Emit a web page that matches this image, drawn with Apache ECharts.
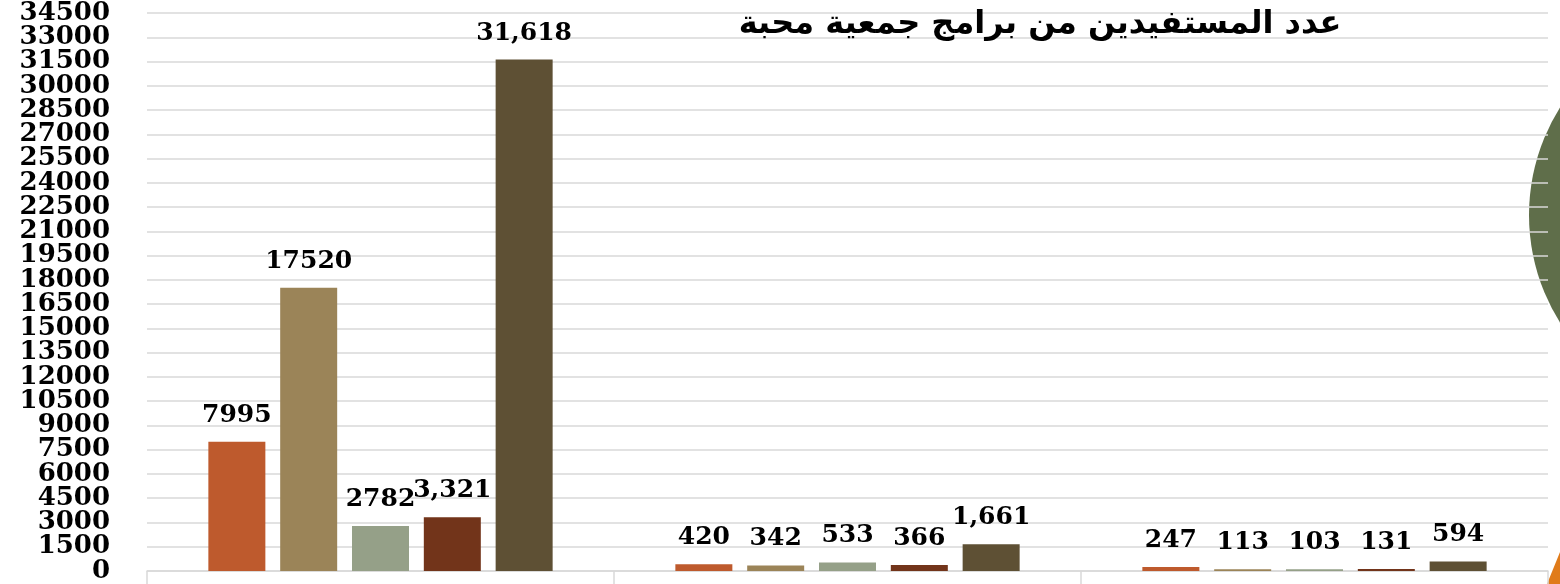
<!DOCTYPE html>
<html>
<head>
<meta charset="utf-8">
<script src="https://cdn.jsdelivr.net/npm/echarts@6/dist/echarts.min.js"></script>
<style>
	html, body { margin: 0; padding: 0; background: #fff; }
	#main { width: 1560px; height: 584px; }
</style>
</head>
<body>
<div id="main"></div>
<script>
// 数据
var categories = ['', '', ''];
var seriesNames = ['s1', 's2', 's3', 's4', 's5'];
var seriesColors = ['#be5a2d', '#9b8458', '#95a088', '#72341a', '#5e5034'];
var values1 = [7995, 420, 247];
var values2 = [17520, 342, 113];
var values3 = [2782, 533, 103];
var values4 = [3321, 366, 131];
var values5 = [31618, 1661, 594];
// 标签文字(原图格式不统一)
var labels1 = ['7995', '420', '247'];
var labels2 = ['17520', '342', '113'];
var labels3 = ['2782', '533', '103'];
var labels4 = ['3,321', '366', '131'];
var labels5 = ['31,618', '1,661', '594'];
var yTicks = { min: 0, max: 34500, interval: 1500 };
var title = 'عدد المستفيدين من برامج جمعية محبة';

var allValues = [values1, values2, values3, values4, values5];
var allLabels = [labels1, labels2, labels3, labels4, labels5];

var myChart = echarts.init(document.getElementById('main'));

var series = [];
allValues.forEach(function(vals, i) {
	series.push({
		name: seriesNames[i],
		type: 'bar',
		barWidth: 57,
		barGap: '26%',
		data: vals,
		itemStyle: { color: seriesColors[i] },
		label: {
			show: true,
			position: 'top',
			distance: 14,
			color: '#000',
			fontFamily: 'DejaVu Serif',
			fontWeight: 'bold',
			fontSize: 25,
			formatter: function(p) {
				return allLabels[i][p.dataIndex];
			}
		}
	});
});

// 刻度标签太密会被自动隐藏, 拆成两个轴(奇数/偶数)叠在一起
function makeYAxis(odd) {
	return {
		type: 'value',
		position: 'left',
		min: yTicks.min,
		max: yTicks.max,
		interval: yTicks.interval,
		axisLine: { show: false },
		axisTick: { show: false },
		splitLine: { show: !odd, lineStyle: { color: '#d9d9d9', width: 1.5 } },
		axisLabel: {
			margin: 37,
			color: '#000',
			fontFamily: 'DejaVu Serif',
			fontWeight: 'bold',
			fontSize: 26,
			showMinLabel: true,
			showMaxLabel: true,
			hideOverlap: false,
			formatter: function(v) {
				var k = Math.round(v / yTicks.interval);
				return (k % 2 === 1) === odd ? String(v) : '';
			}
		}
	};
}

var option = {
	backgroundColor: '#fff',
	animation: false,
	title: {
		text: title,
		left: 1035,
		textAlign: 'center',
		top: 4,
		textStyle: {
			fontFamily: 'DejaVu Sans',
			fontWeight: 'bold',
			fontSize: 32,
			color: '#000'
		}
	},
	graphic: [
		{
			type: 'circle',
			z: -10,
			shape: { cx: 1731, cy: 215, r: 202 },
			style: { fill: '#5f6e4a' }
		},
		{
			type: 'polygon',
			z: -10,
			shape: { points: [[1547, 584], [1560, 552], [1560, 584]] },
			style: { fill: '#e07b1a' }
		}
	],
	grid: {
		left: 147,
		right: 12,
		top: 12,
		bottom: 13
	},
	xAxis: {
		type: 'category',
		data: categories,
		axisLine: { lineStyle: { color: '#d9d9d9', width: 1.5 } },
		axisTick: {
			show: true,
			interval: 0,
			length: 20,
			lineStyle: { color: '#d9d9d9', width: 1.5 }
		},
		axisLabel: { show: false }
	},
	yAxis: [makeYAxis(false), makeYAxis(true)],
	series: series
};
myChart.setOption(option, true);
</script>
</body>
</html>
